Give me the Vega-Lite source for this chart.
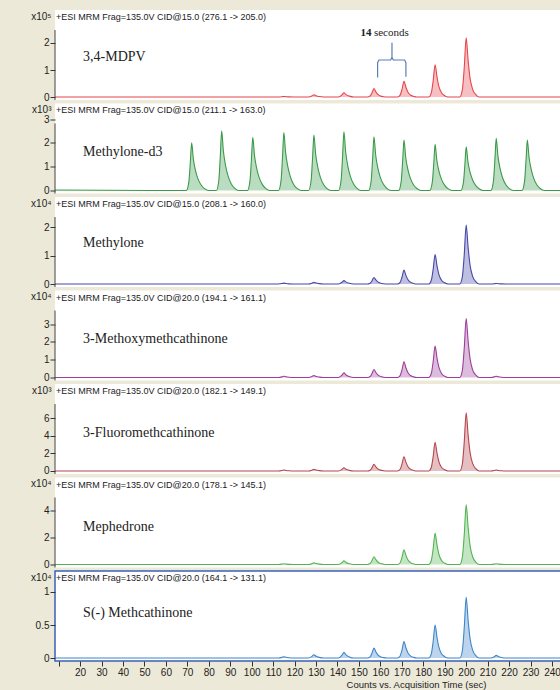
{
  "$schema": "https://vega.github.io/schema/vega-lite/v6.json",
  "background": "#ECE9D8",
  "padding": {"left": 29, "top": 10, "right": 0, "bottom": 0},
  "spacing": 3.5,
  "bounds": "flush",
  "config": {
    "view": {"fill": "white", "stroke": null},
    "axis": {"labelFont": "Liberation Sans Narrow, Liberation Sans", "titleFont": "Liberation Sans", "labelColor": "#222", "titleColor": "#222", "tickColor": "#333", "grid": false, "domain": false, "labelFontSize": 10, "titleFontSize": 10, "titleFontWeight": "normal", "labelOverlap": false, "tickCount": 40}
  },
  "datasets": {
    "one": [{}],
    "p1": [{"t":8.3,"v":0},{"t":112.5,"v":0},{"t":114.1,"v":0.01},{"t":115,"v":0.02},{"t":116,"v":0.011},{"t":117.5,"v":0.004},{"t":119.5,"v":0},
      {"t":126.5,"v":0},{"t":128.1,"v":0.043},{"t":129,"v":0.085},{"t":130,"v":0.047},{"t":131.5,"v":0.017},{"t":133.5,"v":0},
      {"t":140.5,"v":0},{"t":142.1,"v":0.08},{"t":143,"v":0.16},{"t":144,"v":0.088},{"t":145.5,"v":0.032},{"t":147.5,"v":0},
      {"t":154,"v":0},{"t":155.2,"v":0.037},{"t":156.1,"v":0.155},{"t":157,"v":0.31},{"t":157.9,"v":0.192},{"t":158.8,"v":0.099},{"t":160,"v":0.04},{"t":161.5,"v":0.012},{"t":163,"v":0},
      {"t":168,"v":0},{"t":169.2,"v":0.07},{"t":170.1,"v":0.29},{"t":171,"v":0.58},{"t":171.9,"v":0.36},{"t":172.8,"v":0.186},{"t":174,"v":0.075},{"t":175.5,"v":0.023},{"t":177,"v":0},
      {"t":182.5,"v":0},{"t":183.7,"v":0.143},{"t":184.6,"v":0.595},{"t":185.5,"v":1.19},{"t":186.4,"v":0.738},{"t":187.3,"v":0.381},{"t":188.5,"v":0.155},{"t":190,"v":0.048},{"t":191.5,"v":0},
      {"t":197,"v":0},{"t":198.2,"v":0.263},{"t":199.1,"v":1.095},{"t":200,"v":2.19},{"t":200.9,"v":1.358},{"t":201.8,"v":0.701},{"t":203,"v":0.285},{"t":204.5,"v":0.088},{"t":206,"v":0},
      {"t":244.2,"v":0}],
    "brace": [{"o":1,"t":158.7,"v":0.72},{"o":2,"t":158.7,"v":1.27},{"o":3,"t":159.3,"v":1.37},{"o":4,"t":164.8,"v":1.37},{"o":5,"t":165.4,"v":1.47},{"o":6,"t":165.4,"v":2.01},{"o":7,"t":165.4,"v":1.47},{"o":8,"t":166.0,"v":1.37},{"o":9,"t":171.3,"v":1.37},{"o":10,"t":171.9,"v":1.27},{"o":11,"t":171.9,"v":0.75}],
    "p2": [{"t":8.3,"v":0.02},{"t":69.5,"v":0},
      {"t":70.7,"v":0.36},{"t":71.4,"v":1.2},{"t":72,"v":2.0},{"t":72.8,"v":1.32},{"t":73.8,"v":0.84},{"t":75,"v":0.48},{"t":76.5,"v":0.22},{"t":78,"v":0.08},{"t":80,"v":0},
      {"t":83.5,"v":0},{"t":84.7,"v":0.452},{"t":85.4,"v":1.506},{"t":86,"v":2.51},{"t":86.8,"v":1.657},{"t":87.8,"v":1.054},{"t":89,"v":0.602},{"t":90.5,"v":0.276},{"t":92,"v":0.1},{"t":94,"v":0},
      {"t":98,"v":0},{"t":99.2,"v":0.403},{"t":99.9,"v":1.344},{"t":100.5,"v":2.24},{"t":101.3,"v":1.478},{"t":102.3,"v":0.941},{"t":103.5,"v":0.538},{"t":105,"v":0.246},{"t":106.5,"v":0.09},{"t":108.5,"v":0},
      {"t":112.5,"v":0},{"t":113.7,"v":0.437},{"t":114.4,"v":1.458},{"t":115,"v":2.43},{"t":115.8,"v":1.604},{"t":116.8,"v":1.021},{"t":118,"v":0.583},{"t":119.5,"v":0.267},{"t":121,"v":0.097},{"t":123,"v":0},
      {"t":126.5,"v":0},{"t":127.7,"v":0.419},{"t":128.4,"v":1.398},{"t":129,"v":2.33},{"t":129.8,"v":1.538},{"t":130.8,"v":0.979},{"t":132,"v":0.559},{"t":133.5,"v":0.256},{"t":135,"v":0.093},{"t":137,"v":0},
      {"t":140.5,"v":0},{"t":141.7,"v":0.445},{"t":142.4,"v":1.482},{"t":143,"v":2.47},{"t":143.8,"v":1.63},{"t":144.8,"v":1.037},{"t":146,"v":0.593},{"t":147.5,"v":0.272},{"t":149,"v":0.099},{"t":151,"v":0},
      {"t":154.5,"v":0},{"t":155.7,"v":0.407},{"t":156.4,"v":1.356},{"t":157,"v":2.26},{"t":157.8,"v":1.492},{"t":158.8,"v":0.949},{"t":160,"v":0.542},{"t":161.5,"v":0.249},{"t":163,"v":0.09},{"t":165,"v":0},
      {"t":168.5,"v":0},{"t":169.7,"v":0.382},{"t":170.4,"v":1.272},{"t":171,"v":2.12},{"t":171.8,"v":1.399},{"t":172.8,"v":0.89},{"t":174,"v":0.509},{"t":175.5,"v":0.233},{"t":177,"v":0.085},{"t":179,"v":0},
      {"t":183,"v":0},{"t":184.2,"v":0.349},{"t":184.9,"v":1.164},{"t":185.5,"v":1.94},{"t":186.3,"v":1.28},{"t":187.3,"v":0.815},{"t":188.5,"v":0.466},{"t":190,"v":0.213},{"t":191.5,"v":0.078},{"t":193.5,"v":0},
      {"t":197.5,"v":0},{"t":198.7,"v":0.331},{"t":199.4,"v":1.104},{"t":200,"v":1.84},{"t":200.8,"v":1.214},{"t":201.8,"v":0.773},{"t":203,"v":0.442},{"t":204.5,"v":0.202},{"t":206,"v":0.074},{"t":208,"v":0},
      {"t":211.5,"v":0},{"t":212.7,"v":0.394},{"t":213.4,"v":1.314},{"t":214,"v":2.19},{"t":214.8,"v":1.445},{"t":215.8,"v":0.92},{"t":217,"v":0.526},{"t":218.5,"v":0.241},{"t":220,"v":0.088},{"t":222,"v":0},
      {"t":226,"v":0},{"t":227.2,"v":0.382},{"t":227.9,"v":1.272},{"t":228.5,"v":2.12},{"t":229.3,"v":1.399},{"t":230.3,"v":0.89},{"t":231.5,"v":0.509},{"t":233,"v":0.233},{"t":234.5,"v":0.085},{"t":236.5,"v":0},
      {"t":244.2,"v":0}],
    "p3": [{"t":8.3,"v":0},{"t":112.5,"v":0},{"t":114.1,"v":0.015},{"t":115,"v":0.03},{"t":116,"v":0.017},{"t":117.5,"v":0.006},{"t":119.5,"v":0},
      {"t":126.5,"v":0},{"t":128.1,"v":0.03},{"t":129,"v":0.06},{"t":130,"v":0.033},{"t":131.5,"v":0.012},{"t":133.5,"v":0},
      {"t":140.5,"v":0},{"t":142.1,"v":0.06},{"t":143,"v":0.12},{"t":144,"v":0.066},{"t":145.5,"v":0.024},{"t":147.5,"v":0},
      {"t":154,"v":0},{"t":155.2,"v":0.028},{"t":156.1,"v":0.115},{"t":157,"v":0.23},{"t":157.9,"v":0.143},{"t":158.8,"v":0.074},{"t":160,"v":0.03},{"t":161.5,"v":0.009},{"t":163,"v":0},
      {"t":168,"v":0},{"t":169.2,"v":0.059},{"t":170.1,"v":0.245},{"t":171,"v":0.49},{"t":171.9,"v":0.304},{"t":172.8,"v":0.157},{"t":174,"v":0.064},{"t":175.5,"v":0.02},{"t":177,"v":0},
      {"t":182.5,"v":0},{"t":183.7,"v":0.124},{"t":184.6,"v":0.515},{"t":185.5,"v":1.03},{"t":186.4,"v":0.639},{"t":187.3,"v":0.33},{"t":188.5,"v":0.134},{"t":190,"v":0.041},{"t":191.5,"v":0},
      {"t":197,"v":0},{"t":198.2,"v":0.248},{"t":199.1,"v":1.035},{"t":200,"v":2.07},{"t":200.9,"v":1.283},{"t":201.8,"v":0.662},{"t":203,"v":0.269},{"t":204.5,"v":0.083},{"t":206,"v":0},
      {"t":211.5,"v":0},{"t":213.1,"v":0.01},{"t":214,"v":0.02},{"t":215,"v":0.011},{"t":216.5,"v":0.004},{"t":218.5,"v":0},
      {"t":244.2,"v":0}],
    "p4": [{"t":8.3,"v":0},{"t":112.5,"v":0},{"t":114.1,"v":0.035},{"t":115,"v":0.07},{"t":116,"v":0.039},{"t":117.5,"v":0.014},{"t":119.5,"v":0},
      {"t":126.5,"v":0},{"t":128.1,"v":0.055},{"t":129,"v":0.11},{"t":130,"v":0.061},{"t":131.5,"v":0.022},{"t":133.5,"v":0},
      {"t":140.5,"v":0},{"t":142.1,"v":0.13},{"t":143,"v":0.26},{"t":144,"v":0.143},{"t":145.5,"v":0.052},{"t":147.5,"v":0},
      {"t":154,"v":0},{"t":155.2,"v":0.054},{"t":156.1,"v":0.225},{"t":157,"v":0.45},{"t":157.9,"v":0.279},{"t":158.8,"v":0.144},{"t":160,"v":0.059},{"t":161.5,"v":0.018},{"t":163,"v":0},
      {"t":168,"v":0},{"t":169.2,"v":0.106},{"t":170.1,"v":0.44},{"t":171,"v":0.88},{"t":171.9,"v":0.546},{"t":172.8,"v":0.282},{"t":174,"v":0.114},{"t":175.5,"v":0.035},{"t":177,"v":0},
      {"t":182.5,"v":0},{"t":183.7,"v":0.211},{"t":184.6,"v":0.88},{"t":185.5,"v":1.76},{"t":186.4,"v":1.091},{"t":187.3,"v":0.563},{"t":188.5,"v":0.229},{"t":190,"v":0.07},{"t":191.5,"v":0},
      {"t":197,"v":0},{"t":198.2,"v":0.397},{"t":199.1,"v":1.655},{"t":200,"v":3.31},{"t":200.9,"v":2.052},{"t":201.8,"v":1.059},{"t":203,"v":0.43},{"t":204.5,"v":0.132},{"t":206,"v":0},
      {"t":211.5,"v":0},{"t":213.1,"v":0.035},{"t":214,"v":0.07},{"t":215,"v":0.039},{"t":216.5,"v":0.014},{"t":218.5,"v":0},
      {"t":244.2,"v":0}],
    "p5": [{"t":8.3,"v":0},{"t":112.5,"v":0},{"t":114.1,"v":0.055},{"t":115,"v":0.11},{"t":116,"v":0.061},{"t":117.5,"v":0.022},{"t":119.5,"v":0},
      {"t":126.5,"v":0},{"t":128.1,"v":0.095},{"t":129,"v":0.19},{"t":130,"v":0.105},{"t":131.5,"v":0.038},{"t":133.5,"v":0},
      {"t":140.5,"v":0},{"t":142.1,"v":0.185},{"t":143,"v":0.37},{"t":144,"v":0.204},{"t":145.5,"v":0.074},{"t":147.5,"v":0},
      {"t":154,"v":0},{"t":155.2,"v":0.091},{"t":156.1,"v":0.38},{"t":157,"v":0.76},{"t":157.9,"v":0.471},{"t":158.8,"v":0.243},{"t":160,"v":0.099},{"t":161.5,"v":0.03},{"t":163,"v":0},
      {"t":168,"v":0},{"t":169.2,"v":0.194},{"t":170.1,"v":0.81},{"t":171,"v":1.62},{"t":171.9,"v":1.004},{"t":172.8,"v":0.518},{"t":174,"v":0.211},{"t":175.5,"v":0.065},{"t":177,"v":0},
      {"t":182.5,"v":0},{"t":183.7,"v":0.39},{"t":184.6,"v":1.625},{"t":185.5,"v":3.25},{"t":186.4,"v":2.015},{"t":187.3,"v":1.04},{"t":188.5,"v":0.423},{"t":190,"v":0.13},{"t":191.5,"v":0},
      {"t":197,"v":0},{"t":198.2,"v":0.792},{"t":199.1,"v":3.3},{"t":200,"v":6.6},{"t":200.9,"v":4.092},{"t":201.8,"v":2.112},{"t":203,"v":0.858},{"t":204.5,"v":0.264},{"t":206,"v":0},
      {"t":211.5,"v":0},{"t":213.1,"v":0.055},{"t":214,"v":0.11},{"t":215,"v":0.061},{"t":216.5,"v":0.022},{"t":218.5,"v":0},
      {"t":244.2,"v":0}],
    "p6": [{"t":8.3,"v":0},{"t":112.5,"v":0},{"t":114.1,"v":0.025},{"t":115,"v":0.05},{"t":116,"v":0.028},{"t":117.5,"v":0.01},{"t":119.5,"v":0},
      {"t":126.5,"v":0},{"t":128.1,"v":0.063},{"t":129,"v":0.125},{"t":130,"v":0.069},{"t":131.5,"v":0.025},{"t":133.5,"v":0},
      {"t":140.5,"v":0},{"t":142.1,"v":0.135},{"t":143,"v":0.27},{"t":144,"v":0.149},{"t":145.5,"v":0.054},{"t":147.5,"v":0},
      {"t":154,"v":0},{"t":155.2,"v":0.068},{"t":156.1,"v":0.285},{"t":157,"v":0.57},{"t":157.9,"v":0.353},{"t":158.8,"v":0.182},{"t":160,"v":0.074},{"t":161.5,"v":0.023},{"t":163,"v":0},
      {"t":168,"v":0},{"t":169.2,"v":0.13},{"t":170.1,"v":0.54},{"t":171,"v":1.08},{"t":171.9,"v":0.67},{"t":172.8,"v":0.346},{"t":174,"v":0.14},{"t":175.5,"v":0.043},{"t":177,"v":0},
      {"t":182.5,"v":0},{"t":183.7,"v":0.276},{"t":184.6,"v":1.15},{"t":185.5,"v":2.3},{"t":186.4,"v":1.426},{"t":187.3,"v":0.736},{"t":188.5,"v":0.299},{"t":190,"v":0.092},{"t":191.5,"v":0},
      {"t":197,"v":0},{"t":198.2,"v":0.527},{"t":199.1,"v":2.195},{"t":200,"v":4.39},{"t":200.9,"v":2.722},{"t":201.8,"v":1.405},{"t":203,"v":0.571},{"t":204.5,"v":0.176},{"t":206,"v":0},
      {"t":211.5,"v":0},{"t":213.1,"v":0.025},{"t":214,"v":0.05},{"t":215,"v":0.028},{"t":216.5,"v":0.01},{"t":218.5,"v":0},
      {"t":244.2,"v":0}],
    "p7": [{"t":8.3,"v":0},{"t":112.5,"v":0},{"t":114.1,"v":0.01},{"t":115,"v":0.02},{"t":116,"v":0.011},{"t":117.5,"v":0.004},{"t":119.5,"v":0},
      {"t":126.5,"v":0},{"t":128.1,"v":0.025},{"t":129,"v":0.05},{"t":130,"v":0.028},{"t":131.5,"v":0.01},{"t":133.5,"v":0},
      {"t":140.5,"v":0},{"t":142.1,"v":0.043},{"t":143,"v":0.086},{"t":144,"v":0.047},{"t":145.5,"v":0.017},{"t":147.5,"v":0},
      {"t":154,"v":0},{"t":155.2,"v":0.018},{"t":156.1,"v":0.075},{"t":157,"v":0.15},{"t":157.9,"v":0.093},{"t":158.8,"v":0.048},{"t":160,"v":0.02},{"t":161.5,"v":0.006},{"t":163,"v":0},
      {"t":168,"v":0},{"t":169.2,"v":0.03},{"t":170.1,"v":0.125},{"t":171,"v":0.25},{"t":171.9,"v":0.155},{"t":172.8,"v":0.08},{"t":174,"v":0.033},{"t":175.5,"v":0.01},{"t":177,"v":0},
      {"t":182.5,"v":0},{"t":183.7,"v":0.06},{"t":184.6,"v":0.25},{"t":185.5,"v":0.5},{"t":186.4,"v":0.31},{"t":187.3,"v":0.16},{"t":188.5,"v":0.065},{"t":190,"v":0.02},{"t":191.5,"v":0},
      {"t":197,"v":0},{"t":198.2,"v":0.11},{"t":199.1,"v":0.46},{"t":200,"v":0.92},{"t":200.9,"v":0.57},{"t":201.8,"v":0.294},{"t":203,"v":0.12},{"t":204.5,"v":0.037},{"t":206,"v":0},
      {"t":211.5,"v":0},{"t":213.1,"v":0.02},{"t":214,"v":0.04},{"t":215,"v":0.022},{"t":216.5,"v":0.008},{"t":218.5,"v":0},
      {"t":244.2,"v":0}]
  },
  "vconcat": [
    {
      "width": 506, "height": 90,
      "layer": [
        {"data": {"name": "p1"}, "mark": {"type": "area", "color": "#e5474d", "fillOpacity": 0.35, "interpolate": "monotone", "line": {"color": "#e5474d", "strokeWidth": 1.1}},
         "encoding": {
           "x": {"field": "t", "type": "quantitative", "scale": {"domain": [8.3, 244.2], "nice": false, "zero": false}, "axis": null},
           "y": {"field": "v", "type": "quantitative", "scale": {"domain": [-0.111, 3.222], "nice": false, "zero": false},
                 "axis": {"values": [0, 1, 2], "tickCount": 40, "format": "~g", "labelOverlap": false, "title": "x10⁵", "titleAngle": 0, "titleAlign": "right", "titleBaseline": "middle", "titleX": -4, "titleY": 6, "tickSize": 5, "labelPadding": 1}},
           "y2": {"datum": 0}}},
        {"data": {"name": "brace"}, "mark": {"type": "line", "color": "#5b7fb5", "strokeWidth": 1.2},
         "encoding": {"x": {"field": "t", "type": "quantitative"}, "y": {"field": "v", "type": "quantitative"}, "order": {"field": "o"}}},
        {"data": {"name": "one"}, "mark": {"type": "rule", "color": "#444"}, "encoding": {"x": {"datum": 8.3}, "y": {"datum": 2.48}, "y2": {"datum": -0.111}}},
        {"data": {"name": "one"}, "mark": {"type": "text", "align": "left", "baseline": "middle", "font": "Liberation Serif", "fontSize": 14, "color": "#222"}, "encoding": {"x": {"datum": 21.4}, "y": {"datum": 1.48}, "text": {"value": "3,4-MDPV"}}},
        {"data": {"name": "one"}, "mark": {"type": "text", "align": "right", "baseline": "middle", "font": "Liberation Serif", "fontSize": 11, "fontWeight": "bold", "color": "#222"}, "encoding": {"x": {"datum": 155.9}, "y": {"datum": 2.37}, "text": {"value": "14"}}},
        {"data": {"name": "one"}, "mark": {"type": "text", "align": "left", "baseline": "middle", "font": "Liberation Serif", "fontSize": 11, "color": "#222"}, "encoding": {"x": {"datum": 157.0}, "y": {"datum": 2.37}, "text": {"value": "seconds"}}},
        {"data": {"name": "one"}, "mark": {"type": "text", "align": "left", "baseline": "middle", "font": "Liberation Sans", "fontSize": 9, "color": "#222"}, "encoding": {"x": {"datum": 8.8}, "y": {"datum": 2.963}, "text": {"value": "+ESI MRM Frag=135.0V CID@15.0 (276.1 -> 205.0)"}}}
      ]
    },
    {
      "width": 506, "height": 90,
      "layer": [
        {"data": {"name": "p2"}, "mark": {"type": "area", "color": "#3a9a4a", "fillOpacity": 0.35, "interpolate": "monotone", "line": {"color": "#3a9a4a", "strokeWidth": 1.1}},
         "encoding": {
           "x": {"field": "t", "type": "quantitative", "scale": {"domain": [8.3, 244.2], "nice": false, "zero": false}, "axis": null},
           "y": {"field": "v", "type": "quantitative", "scale": {"domain": [-0.126, 3.655], "nice": false, "zero": false},
                 "axis": {"values": [0, 1, 2, 3], "tickCount": 40, "format": "~g", "labelOverlap": false, "title": "x10³", "titleAngle": 0, "titleAlign": "right", "titleBaseline": "middle", "titleX": -4, "titleY": 5.5, "tickSize": 5, "labelPadding": 1}},
           "y2": {"datum": 0}}},
        {"data": {"name": "one"}, "mark": {"type": "rule", "color": "#444"}, "encoding": {"x": {"datum": 8.3}, "y": {"datum": 2.82}, "y2": {"datum": -0.126}}},
        {"data": {"name": "one"}, "mark": {"type": "text", "align": "left", "baseline": "middle", "font": "Liberation Serif", "fontSize": 14, "color": "#222"}, "encoding": {"x": {"datum": 21.4}, "y": {"datum": 1.62}, "text": {"value": "Methylone-d3"}}},
        {"data": {"name": "one"}, "mark": {"type": "text", "align": "left", "baseline": "middle", "font": "Liberation Sans", "fontSize": 9, "color": "#222"}, "encoding": {"x": {"datum": 8.8}, "y": {"datum": 3.361}, "text": {"value": "+ESI MRM Frag=135.0V CID@15.0 (211.1 -> 163.0)"}}}
      ]
    },
    {
      "width": 506, "height": 90,
      "layer": [
        {"data": {"name": "p3"}, "mark": {"type": "area", "color": "#4848a8", "fillOpacity": 0.35, "interpolate": "monotone", "line": {"color": "#4848a8", "strokeWidth": 1.1}},
         "encoding": {
           "x": {"field": "t", "type": "quantitative", "scale": {"domain": [8.3, 244.2], "nice": false, "zero": false}, "axis": null},
           "y": {"field": "v", "type": "quantitative", "scale": {"domain": [-0.105, 3.053], "nice": false, "zero": false},
                 "axis": {"values": [0, 1, 2], "tickCount": 40, "format": "~g", "labelOverlap": false, "title": "x10⁴", "titleAngle": 0, "titleAlign": "right", "titleBaseline": "middle", "titleX": -4, "titleY": 6, "tickSize": 5, "labelPadding": 1}},
           "y2": {"datum": 0}}},
        {"data": {"name": "one"}, "mark": {"type": "rule", "color": "#444"}, "encoding": {"x": {"datum": 8.3}, "y": {"datum": 2.35}, "y2": {"datum": -0.105}}},
        {"data": {"name": "one"}, "mark": {"type": "text", "align": "left", "baseline": "middle", "font": "Liberation Serif", "fontSize": 14, "color": "#222"}, "encoding": {"x": {"datum": 21.4}, "y": {"datum": 1.44}, "text": {"value": "Methylone"}}},
        {"data": {"name": "one"}, "mark": {"type": "text", "align": "left", "baseline": "middle", "font": "Liberation Sans", "fontSize": 9, "color": "#222"}, "encoding": {"x": {"datum": 8.8}, "y": {"datum": 2.807}, "text": {"value": "+ESI MRM Frag=135.0V CID@15.0 (208.1 -> 160.0)"}}}
      ]
    },
    {
      "width": 506, "height": 90,
      "layer": [
        {"data": {"name": "p4"}, "mark": {"type": "area", "color": "#9c3f9c", "fillOpacity": 0.35, "interpolate": "monotone", "line": {"color": "#9c3f9c", "strokeWidth": 1.1}},
         "encoding": {
           "x": {"field": "t", "type": "quantitative", "scale": {"domain": [8.3, 244.2], "nice": false, "zero": false}, "axis": null},
           "y": {"field": "v", "type": "quantitative", "scale": {"domain": [-0.169, 4.888], "nice": false, "zero": false},
                 "axis": {"values": [0, 1, 2, 3], "tickCount": 40, "format": "~g", "labelOverlap": false, "title": "x10⁴", "titleAngle": 0, "titleAlign": "right", "titleBaseline": "middle", "titleX": -4, "titleY": 6, "tickSize": 5, "labelPadding": 1}},
           "y2": {"datum": 0}}},
        {"data": {"name": "one"}, "mark": {"type": "rule", "color": "#444"}, "encoding": {"x": {"datum": 8.3}, "y": {"datum": 3.76}, "y2": {"datum": -0.169}}},
        {"data": {"name": "one"}, "mark": {"type": "text", "align": "left", "baseline": "middle", "font": "Liberation Serif", "fontSize": 14, "color": "#222"}, "encoding": {"x": {"datum": 21.4}, "y": {"datum": 2.16}, "text": {"value": "3-Methoxymethcathinone"}}},
        {"data": {"name": "one"}, "mark": {"type": "text", "align": "left", "baseline": "middle", "font": "Liberation Sans", "fontSize": 9, "color": "#222"}, "encoding": {"x": {"datum": 8.8}, "y": {"datum": 4.494}, "text": {"value": "+ESI MRM Frag=135.0V CID@20.0 (194.1 -> 161.1)"}}}
      ]
    },
    {
      "width": 506, "height": 90,
      "layer": [
        {"data": {"name": "p5"}, "mark": {"type": "area", "color": "#b5474f", "fillOpacity": 0.35, "interpolate": "monotone", "line": {"color": "#b5474f", "strokeWidth": 1.1}},
         "encoding": {
           "x": {"field": "t", "type": "quantitative", "scale": {"domain": [8.3, 244.2], "nice": false, "zero": false}, "axis": null},
           "y": {"field": "v", "type": "quantitative", "scale": {"domain": [-0.34, 9.853], "nice": false, "zero": false},
                 "axis": {"values": [0, 2, 4, 6], "tickCount": 40, "format": "~g", "labelOverlap": false, "title": "x10³", "titleAngle": 0, "titleAlign": "right", "titleBaseline": "middle", "titleX": -4, "titleY": 6, "tickSize": 5, "labelPadding": 1}},
           "y2": {"datum": 0}}},
        {"data": {"name": "one"}, "mark": {"type": "rule", "color": "#444"}, "encoding": {"x": {"datum": 8.3}, "y": {"datum": 7.59}, "y2": {"datum": -0.34}}},
        {"data": {"name": "one"}, "mark": {"type": "text", "align": "left", "baseline": "middle", "font": "Liberation Serif", "fontSize": 14, "color": "#222"}, "encoding": {"x": {"datum": 21.4}, "y": {"datum": 4.3}, "text": {"value": "3-Fluoromethcathinone"}}},
        {"data": {"name": "one"}, "mark": {"type": "text", "align": "left", "baseline": "middle", "font": "Liberation Sans", "fontSize": 9, "color": "#222"}, "encoding": {"x": {"datum": 8.8}, "y": {"datum": 9.06}, "text": {"value": "+ESI MRM Frag=135.0V CID@20.0 (182.1 -> 149.1)"}}}
      ]
    },
    {
      "width": 506, "height": 90,
      "layer": [
        {"data": {"name": "p6"}, "mark": {"type": "area", "color": "#52b452", "fillOpacity": 0.35, "interpolate": "monotone", "line": {"color": "#52b452", "strokeWidth": 1.1}},
         "encoding": {
           "x": {"field": "t", "type": "quantitative", "scale": {"domain": [8.3, 244.2], "nice": false, "zero": false}, "axis": null},
           "y": {"field": "v", "type": "quantitative", "scale": {"domain": [-0.221, 6.397], "nice": false, "zero": false},
                 "axis": {"values": [0, 2, 4], "tickCount": 40, "format": "~g", "labelOverlap": false, "title": "x10⁴", "titleAngle": 0, "titleAlign": "right", "titleBaseline": "middle", "titleX": -4, "titleY": 6, "tickSize": 5, "labelPadding": 1}},
           "y2": {"datum": 0}}},
        {"data": {"name": "one"}, "mark": {"type": "rule", "color": "#444"}, "encoding": {"x": {"datum": 8.3}, "y": {"datum": 4.93}, "y2": {"datum": -0.221}}},
        {"data": {"name": "one"}, "mark": {"type": "text", "align": "left", "baseline": "middle", "font": "Liberation Serif", "fontSize": 14, "color": "#222"}, "encoding": {"x": {"datum": 21.4}, "y": {"datum": 2.76}, "text": {"value": "Mephedrone"}}},
        {"data": {"name": "one"}, "mark": {"type": "text", "align": "left", "baseline": "middle", "font": "Liberation Sans", "fontSize": 9, "color": "#222"}, "encoding": {"x": {"datum": 8.8}, "y": {"datum": 5.882}, "text": {"value": "+ESI MRM Frag=135.0V CID@20.0 (178.1 -> 145.1)"}}}
      ]
    },
    {
      "width": 506, "height": 90,
      "view": {"stroke": "#3a62b8", "strokeWidth": 1.5},
      "layer": [
        {"data": {"name": "p7"}, "mark": {"type": "area", "color": "#3f86c8", "fillOpacity": 0.35, "interpolate": "monotone", "line": {"color": "#3f86c8", "strokeWidth": 1.1}},
         "encoding": {
           "x": {"field": "t", "type": "quantitative", "scale": {"domain": [8.3, 244.2], "nice": false, "zero": false},
                 "axis": {"values": [10, 20, 30, 40, 50, 60, 70, 80, 90, 100, 110, 120, 130, 140, 150, 160, 170, 180, 190, 200, 210, 220, 230, 240], "tickCount": 40, "labelExpr": "datum.value == 10 ? '' : datum.label", "labelOverlap": false, "tickSize": 5, "labelPadding": 1, "labelFontSize": 10, "labelFlush": false, "title": "Counts vs. Acquisition Time (sec)", "titleFont": "Liberation Sans Narrow, Liberation Sans", "titleFontSize": 9.5, "titlePadding": 2, "titleX": 361, "titleAlign": "center"}},
           "y": {"field": "v", "type": "quantitative", "scale": {"domain": [-0.045, 1.318], "nice": false, "zero": false},
                 "axis": {"values": [0, 0.5, 1], "tickCount": 40, "format": "~g", "labelOverlap": false, "title": "x10⁴", "titleAngle": 0, "titleAlign": "right", "titleBaseline": "middle", "titleX": -4, "titleY": 6, "tickSize": 5, "labelPadding": 1}},
           "y2": {"datum": 0}}},
        {"data": {"name": "one"}, "mark": {"type": "text", "align": "left", "baseline": "middle", "font": "Liberation Serif", "fontSize": 14, "color": "#222"}, "encoding": {"x": {"datum": 21.4}, "y": {"datum": 0.68}, "text": {"value": "S(-) Methcathinone"}}},
        {"data": {"name": "one"}, "mark": {"type": "text", "align": "left", "baseline": "middle", "font": "Liberation Sans", "fontSize": 9, "color": "#222"}, "encoding": {"x": {"datum": 8.8}, "y": {"datum": 1.212}, "text": {"value": "+ESI MRM Frag=135.0V CID@20.0 (164.1 -> 131.1)"}}}
      ]
    }
  ]
}
